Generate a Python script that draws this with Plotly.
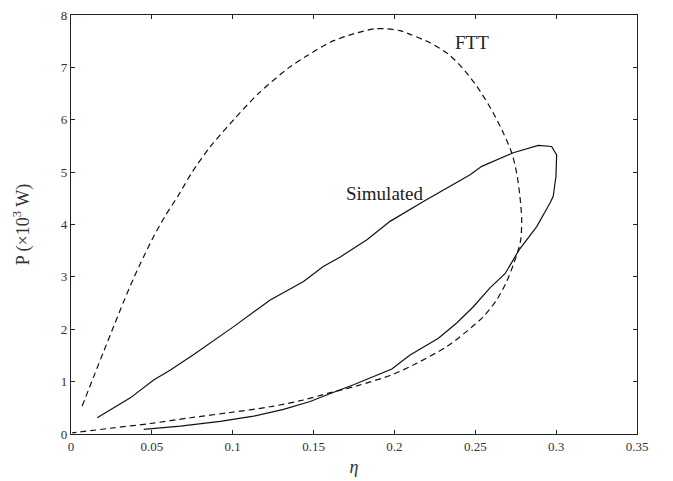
import plotly.graph_objects as go

# FTT (dashed) curve: eta, P (x10^3 W)
ftt_eta = [0.0069, 0.0141, 0.0205, 0.0266, 0.0326, 0.0388, 0.045, 0.0511, 0.058, 0.0667,
           0.0749, 0.0860, 0.1006, 0.1159, 0.135, 0.1459, 0.1603, 0.1747, 0.1891, 0.2035,
           0.2097, 0.222, 0.2334, 0.2437, 0.2529, 0.2611, 0.2673, 0.2725, 0.2756, 0.2776,
           0.2787, 0.2781, 0.2766, 0.2735, 0.2694, 0.2632, 0.2550, 0.2447, 0.2324, 0.2138,
           0.1984, 0.1768, 0.1592, 0.1438, 0.1232, 0.0985, 0.0738, 0.049, 0.0244, 0.0007]
ftt_p = [0.535, 1.10, 1.60, 2.07, 2.53, 2.98, 3.39, 3.77, 4.15, 4.57,
         5.0, 5.48, 6.0, 6.5, 7.0, 7.22, 7.48, 7.64, 7.74, 7.70,
         7.63, 7.47, 7.25, 6.93, 6.55, 6.13, 5.75, 5.37, 4.98, 4.54,
         4.09, 3.71, 3.52, 3.23, 2.91, 2.56, 2.24, 1.96, 1.67, 1.35,
         1.13, 0.92, 0.78, 0.65, 0.52, 0.41, 0.31, 0.20, 0.11, 0.02]

# Simulated (solid) curve
sim_eta = [0.0162, 0.0367, 0.0511, 0.0615, 0.0759, 0.1006, 0.1232, 0.1438, 0.156, 0.1665,
           0.183, 0.191, 0.1973, 0.2179, 0.2468, 0.254, 0.2735, 0.289, 0.2972, 0.3003,
           0.2999, 0.2982, 0.2962, 0.288, 0.2772, 0.2684, 0.2591, 0.2488, 0.2385, 0.2272,
           0.2097, 0.1984, 0.1747, 0.1592, 0.1479, 0.1314, 0.1129, 0.0923, 0.0676, 0.045]
sim_p = [0.31, 0.69, 1.03, 1.22, 1.52, 2.05, 2.56, 2.91, 3.20, 3.38,
         3.71, 3.90, 4.06, 4.44, 4.95, 5.11, 5.37, 5.51, 5.49, 5.33,
         4.92, 4.54, 4.41, 3.96, 3.52, 3.06, 2.79, 2.43, 2.12, 1.83,
         1.51, 1.24, 0.94, 0.76, 0.62, 0.47, 0.34, 0.24, 0.15, 0.09]

x_ticks = [0, 0.05, 0.1, 0.15, 0.2, 0.25, 0.3, 0.35]
x_tick_labels = ["0", "0.05", "0.1", "0.15", "0.2", "0.25", "0.3", "0.35"]
y_ticks = [0, 1, 2, 3, 4, 5, 6, 7, 8]

FONT = "Liberation Serif, Times New Roman, serif"

fig = go.Figure()
fig.add_trace(go.Scatter(x=ftt_eta, y=ftt_p, mode="lines",
                         line=dict(color="#111", width=1.2, dash="6px,4px", shape="spline", smoothing=0.8),
                         showlegend=False, hoverinfo="skip"))
fig.add_trace(go.Scatter(x=sim_eta, y=sim_p, mode="lines",
                         line=dict(color="#111", width=1.2),
                         showlegend=False, hoverinfo="skip"))

fig.add_annotation(x=0.2478, y=7.47, text="FTT", showarrow=False,
                   font=dict(family=FONT, size=19, color="#222"))
fig.add_annotation(x=0.194, y=4.59, text="Simulated", showarrow=False,
                   font=dict(family=FONT, size=19, color="#222"))

axis_common = dict(showline=True, linecolor="#222", linewidth=1.3, mirror="ticks",
                   ticks="inside", ticklen=4, tickcolor="#222", tickwidth=1,
                   showgrid=False, zeroline=False, automargin=False,
                   tickfont=dict(family=FONT, size=13, color="#333"))

fig.update_xaxes(range=[0, 0.35], tickvals=x_ticks, ticktext=x_tick_labels,
                 title=dict(text="<i>η</i>", font=dict(family=FONT, size=18, color="#333"), standoff=7),
                 **axis_common)
fig.update_yaxes(range=[0, 8], tickvals=y_ticks,
                 title=dict(text="P (×10<sup>3</sup> W)", font=dict(family=FONT, size=18, color="#333"), standoff=26),
                 **axis_common)

fig.update_layout(width=673, height=481, margin=dict(l=71, r=36, t=15, b=47),
                  plot_bgcolor="white", paper_bgcolor="white",
                  font=dict(family=FONT))

fig.write_html("out.html")
